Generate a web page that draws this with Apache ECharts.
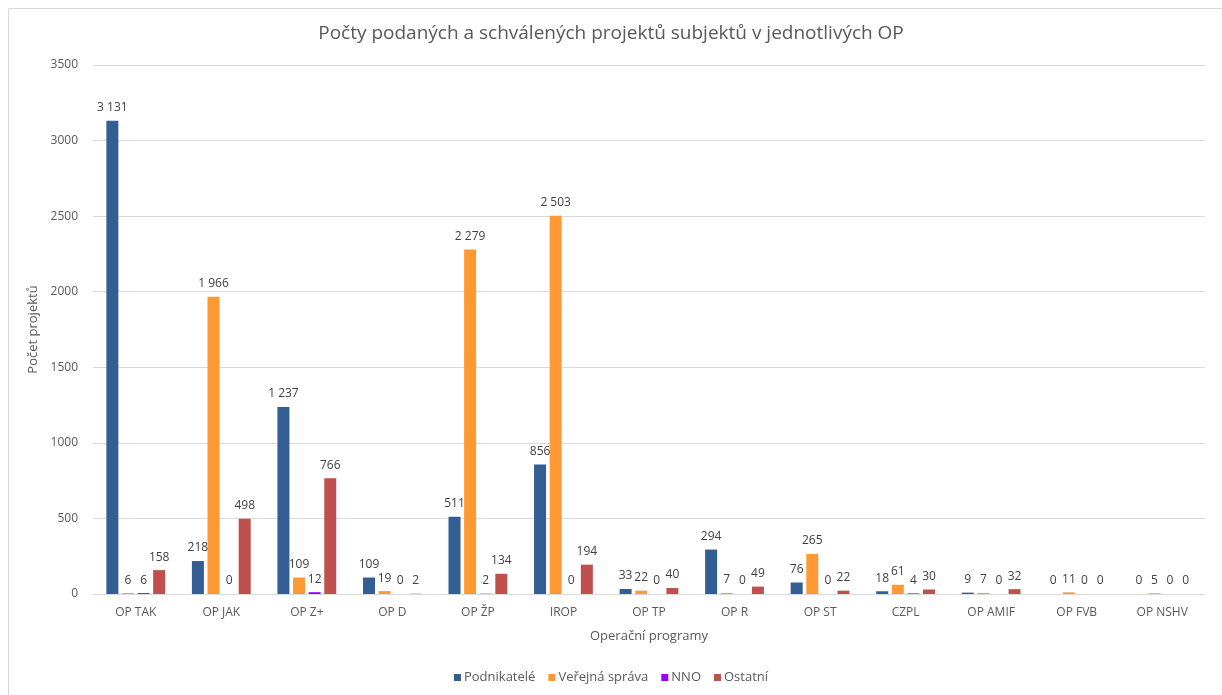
<!DOCTYPE html>
<html>
<head>
<meta charset="utf-8">
<script src="https://cdn.jsdelivr.net/npm/echarts@6/dist/echarts.min.js"></script>
<style>
html,body{margin:0;padding:0;background:#fff;}
#chart{width:1222px;height:695px;}
</style>
</head>
<body>
<div id="chart"></div>
<script>
const categories = ['OP TAK','OP JAK','OP Z+','OP D','OP ŽP','IROP','OP TP','OP R','OP ST','CZPL','OP AMIF','OP FVB','OP NSHV'];
const podnikatele = [3131, 218, 1237, 109, 511, 856, 33, 294, 76, 18, 9, 0, 0];
const verejnaSprava = [6, 1966, 109, 19, 2279, 2503, 22, 7, 265, 61, 7, 11, 5];
const nno = [6, 0, 12, 0, 2, 0, 0, 0, 0, 4, 0, 0, 0];
const ostatni = [158, 498, 766, 2, 134, 194, 40, 49, 22, 30, 32, 0, 0];
const seriesNames = ['Podnikatelé','Veřejná správa','NNO','Ostatní'];
const yTicks = [0, 500, 1000, 1500, 2000, 2500, 3000, 3500];

const colors = ['#335E93', '#FF9933', '#9900FF', '#C0504D'];
const font = 'Open Sans, sans-serif';
const fmt = v => String(v).replace(/\B(?=(\d{3})+(?!\d))/g, ' ');

const chart = echarts.init(document.getElementById('chart'), null, {renderer:'canvas'});
const dataSets = [podnikatele, verejnaSprava, nno, ostatni];
chart.setOption({
  animation: false,
  color: colors,
  textStyle: {fontFamily: font},
  title: {
    text: 'Počty podaných a schválených projektů subjektů v jednotlivých OP',
    left: 'center', top: 19,
    textStyle: {fontFamily: font, fontSize: 19, fontWeight: 'normal', color: '#595959'}
  },
  graphic: [{
    type: 'rect', left: 6, top: 6, shape: {x: 0, y: 0, width: 1240, height: 720},
    style: {fill: 'none', stroke: '#d9d9d9', lineWidth: 1}, silent: true, z: -1
  }],
  legend: {
    bottom: 6, left: 'center',
    itemWidth: 7, itemHeight: 7, itemGap: 13,
    icon: 'rect',
    textStyle: {fontFamily: font, fontSize: 13, color: '#595959', padding: [0,0,0,-2]},
    data: seriesNames
  },
  grid: {left: 93, right: 17, top: 65, bottom: 101, containLabel: false},
  xAxis: {
    type: 'category', data: categories,
    name: 'Operační programy', nameLocation: 'middle', nameGap: 36,
    nameTextStyle: {fontFamily: font, fontSize: 13, color: '#595959'},
    axisLine: {lineStyle: {color: '#d9d9d9'}},
    axisTick: {show: false},
    axisLabel: {fontFamily: font, fontSize: 12, color: '#595959', margin: 13, interval: 0}
  },
  yAxis: {
    type: 'value', min: 0, max: 3500, interval: 500,
    name: 'Počet projektů', nameLocation: 'middle', nameGap: 49,
    nameTextStyle: {fontFamily: font, fontSize: 13, color: '#595959'},
    axisLine: {show: false}, axisTick: {show: false},
    axisLabel: {fontFamily: font, fontSize: 12, color: '#595959', margin: 15,
      formatter: v => yTicks.includes(v) ? String(v) : ''},
    splitLine: {lineStyle: {color: '#d9d9d9'}}
  },
  series: seriesNames.map((n, i) => ({
    name: n, type: 'bar', data: dataSets[i],
    barWidth: 12, barGap: '30%',
    label: {show: true, position: 'top', distance: 7, fontFamily: font, fontSize: 12, color: '#404040',
      formatter: p => fmt(p.value)}
  }))
});
</script>
</body>
</html>
